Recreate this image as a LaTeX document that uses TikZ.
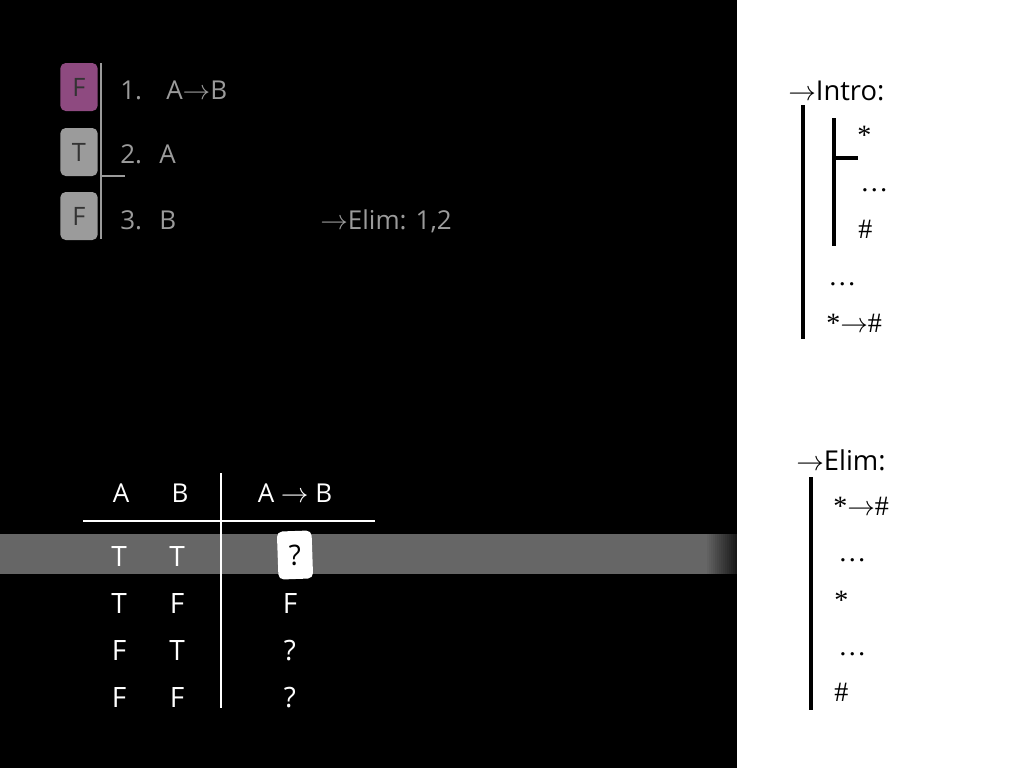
\documentclass[tikz,border=0pt]{standalone}
\usepackage{fontspec}
\setmainfont{Open Sans}
\newfontfamily\symfont{Liberation Serif}
\usetikzlibrary{positioning}
\definecolor{dimtext}{HTML}{9B9B9B}
\definecolor{plum}{HTML}{8E4A80}
\definecolor{bandgray}{HTML}{666666}

\begin{document}
\begin{tikzpicture}[x=0.75pt,y=-0.75pt,
    big/.style={font=\fontsize{19.5}{22}\selectfont,text height=13.9pt,text depth=0pt,inner sep=0pt},
    valbox/.style={font=\fontsize{19}{21}\selectfont,text height=13.5pt,text depth=0pt,inner sep=0pt,rounded corners=4pt,minimum width=28pt,minimum height=36pt,text=black!80},
    proof/.style={big,text=dimtext,anchor=west},
    cell/.style={font=\fontsize{21}{23}\selectfont,text height=15pt,text depth=0pt,inner sep=0pt,text=white},
    head/.style={big,text=white},
    rulename/.style={font=\fontsize{20.5}{23}\selectfont,text height=14.6pt,text depth=0pt,inner sep=0pt,anchor=west},
    sym/.style={font=\symfont\fontsize{21}{23}\selectfont,inner sep=0pt,anchor=west},
    bar/.style={line width=3pt}]
    % page: dark slide with white panel
    \useasboundingbox (0,0) rectangle (1024,768);
    \fill[white] (0,0) rectangle (1024,768);
    \fill[black] (0,0) rectangle (737,768);
    % highlighted row
    \fill[bandgray] (0,534) rectangle (705,574);
    \foreach \k in {0,...,15}
        \fill[bandgray!\the\numexpr100-5*\k\relax!black] (705+2*\k,534) rectangle (707+2*\k,574);

    % proof with truth values
    \node[valbox,fill=plum] (box1) at (79,87) {F};
    \node[valbox,fill=dimtext] (box2) at (79,152) {T};
    \node[valbox,fill=dimtext] (box3) at (79,216) {F};
    \coordinate (top) at (101,63);
    \coordinate (bot) at (101,239);
    \coordinate (hyp) at (101,176);
    \draw[dimtext,line width=2pt] (top) -- (bot);
    \draw[dimtext,line width=2pt] (hyp) -- ++(24,0);
    \node[proof] (num1) at (120,90) {1.};
    \node[proof] (num2) at (120,154) {2.};
    \node[proof] (num3) at (120,220) {3.};
    \node[proof] (fml1) at (166,90) {A$\rightarrow$B};
    \node[proof] (fml2) at (159,154) {A};
    \node[proof] (fml3) at (159,220) {B};
    \node[proof] (why3) at (320,220) {$\rightarrow$Elim: 1,2};

    % truth table
    \node[head] (hA) at (121,493) {A};
    \node[head] (hB) at (180,493) {B};
    \node[head] (hAB) at (295,493) {A $\rightarrow$ B};
    \coordinate (hl) at (83,521);
    \coordinate (hr) at (375,521);
    \coordinate (vt) at (221,473);
    \coordinate (vb) at (221,708);
    \draw[white,line width=1.5pt] (hl) -- (hr);
    \draw[white,line width=1.5pt] (vt) -- (vb);
    \foreach \a/\b/\c [count=\i] in {T/T/,T/F/F,F/T/?,F/F/?}{
        \pgfmathsetmacro{\yy}{556+47*(\i-1)}
        \node[cell] (a\i) at (119,\yy) {\a};
        \node[cell] (b\i) at (177,\yy) {\b};
        \node[cell] (c\i) at (290,\yy) {\c};
    }
    \node[cell,fill=white,text=black,rounded corners=4pt,minimum width=26pt,minimum height=36pt,rotate=2] (ask) at (295,555) {?};

    % intro rule
    \node[rulename] (intro) at (788,91) {$\rightarrow$Intro:};
    \coordinate (o1) at (803,105);
    \coordinate (o2) at (803,339);
    \coordinate (i1) at (834,118);
    \coordinate (i2) at (834,246);
    \coordinate (tick) at (834,158);
    \draw[bar] (o1) -- (o2);
    \draw[bar] (i1) -- (i2);
    \draw[bar] (tick) -- ++(24,0);
    \node[sym] (ia) at (857,135) {*};
    \node[sym,anchor=base west] (idots) at (860,191) {\ldots};
    \node[sym] (ib) at (858,229) {\#};
    \node[sym,anchor=base west] (odots) at (828,285) {\ldots};
    \node[sym] (iab) at (826,323) {*$\rightarrow$\#};

    % elim rule
    \node[rulename] (elim) at (796,461) {$\rightarrow$Elim:};
    \coordinate (e1) at (811,477);
    \coordinate (e2) at (811,710);
    \draw[bar] (e1) -- (e2);
    \node[sym] (eab) at (833,506) {*$\rightarrow$\#};
    \node[sym,anchor=base west] (edots1) at (838,561) {\ldots};
    \node[sym] (ea) at (834,600) {*};
    \node[sym,anchor=base west] (edots2) at (838,655) {\ldots};
    \node[sym] (eb) at (834,692) {\#};
\end{tikzpicture}
\end{document}
